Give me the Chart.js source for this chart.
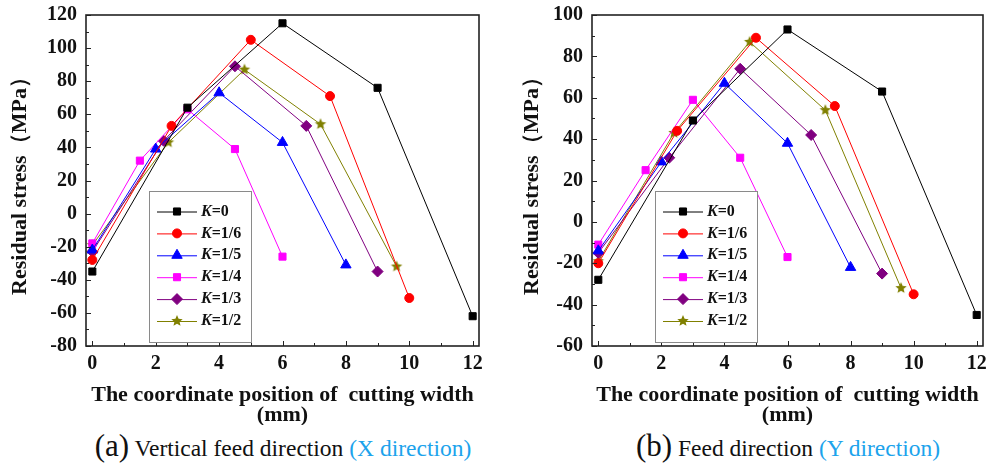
<!DOCTYPE html>
<html>
<head>
<meta charset="utf-8">
<script src="https://cdn.jsdelivr.net/npm/chart.js@4.4.1/dist/chart.umd.min.js"></script>
<style>
  html, body { margin: 0; padding: 0; background: #fff; }
  #wrap { position: relative; width: 995px; height: 469px; overflow: hidden; }
  .panel { position: absolute; top: 0; height: 425px; }
  #pa { left: 0; width: 497px; }
  #pb { left: 497px; width: 498px; }
  .cap { position: absolute; top: 429px; line-height: 34px; font-family: 'Liberation Serif', 'Times New Roman', serif;
         font-size: 23.5px; white-space: nowrap; transform: translateX(-50%); color: #111; }
  .cap .tag { font-size: 31px; }
  .cap .dir { color: #1ca3ec; }
</style>
</head>
<body>
<div id="wrap">
  <div class="panel" id="pa"><canvas id="ca"></canvas></div>
  <div class="panel" id="pb"><canvas id="cb"></canvas></div>
  <div class="cap" style="left:283px"><span class="tag">(a)</span> Vertical feed direction <span class="dir">(X direction)</span></div>
  <div class="cap" style="left:788px"><span class="tag">(b)</span> Feed direction <span class="dir">(Y direction)</span></div>
</div>
<script>
// series names and cutting-width positions (mm), shared by both panels
var seriesNames = ['K=0', 'K=1/6', 'K=1/5', 'K=1/4', 'K=1/3', 'K=1/2'];
var posK0  = [0, 3, 6, 9, 12];
var posK16 = [0, 2.5, 5, 7.5, 10];
var posK15 = [0, 2, 4, 6, 8];
var posK14 = [0, 1.5, 3, 4.5, 6];
var posK13 = [0, 2.25, 4.5, 6.75, 9];
var posK12 = [0, 2.4, 4.8, 7.2, 9.6];

// (a) vertical feed direction — residual stress, MPa
var xdirK0  = [-35, 64, 115, 76, -62];
var xdirK16 = [-28, 53, 105, 71, -51];
var xdirK15 = [-22, 39, 73, 43, -31];
var xdirK14 = [-18, 32, 63, 39, -26];
var xdirK13 = [-23, 44, 89, 53, -35];
var xdirK12 = [-19, 43, 87, 54, -32];

// (b) feed direction — residual stress, MPa
var ydirK0  = [-28, 49, 93, 63, -45];
var ydirK16 = [-20, 44, 89, 56, -35];
var ydirK15 = [-14, 29, 67, 38, -22];
var ydirK14 = [-11, 25, 59, 31, -17];
var ydirK13 = [-15, 31, 74, 42, -25];
var ydirK12 = [-19, 43, 87, 54, -32];

var xTicks  = [0, 2, 4, 6, 8, 10, 12];
var yTicksA = [-80, -60, -40, -20, 0, 20, 40, 60, 80, 100, 120];
var yTicksB = [-60, -40, -20, 0, 20, 40, 60, 80, 100];

var colors = ['#000000', '#ff0000', '#0000ff', '#ff00ff', '#800080', '#808000'];
var SERIF = "'Liberation Serif', 'Times New Roman', serif";

function starImage(color, r) {
  var c = document.createElement('canvas');
  var s = Math.ceil(r * 2) + 2;
  c.width = c.height = s;
  var g = c.getContext('2d');
  g.fillStyle = color;
  g.beginPath();
  for (var i = 0; i < 10; i++) {
    var rr = i % 2 ? r * 0.45 : r;
    var a = -Math.PI / 2 + i * Math.PI / 5;
    g.lineTo(s / 2 + rr * Math.cos(a), s / 2 + rr * Math.sin(a));
  }
  g.closePath();
  g.fill();
  return c;
}
var markers = ['rect', 'circle', 'triangle', 'rect', 'rectRot', starImage('#808000', 6)];
var radii = [5, 4.5, 6, 5, 5.5, 6];

function pts(xs, ys) { return xs.map(function (x, i) { return { x: x, y: ys[i] }; }); }

// frame, inward ticks and the boxed legend inside the plot
var decor = {
  id: 'decor',
  afterDraw: function (chart, args, o) {
    var ctx = chart.ctx, a = chart.chartArea;
    var sx = chart.scales.x, sy = chart.scales.y;
    ctx.save();
    ctx.strokeStyle = '#222';
    ctx.lineWidth = 1;
    ctx.beginPath();
    var xt = sx.ticks.map(function (t) { return t.value; });
    var yt = sy.ticks.map(function (t) { return t.value; });
    xt.forEach(function (v, i) {
      var p = Math.round(sx.getPixelForValue(v)) + 0.5;
      ctx.moveTo(p, a.bottom); ctx.lineTo(p, a.bottom - 5);
      if (i < xt.length - 1) {
        var m = Math.round(sx.getPixelForValue((v + xt[i + 1]) / 2)) + 0.5;
        ctx.moveTo(m, a.bottom); ctx.lineTo(m, a.bottom - 3);
      }
    });
    yt.forEach(function (v, i) {
      var p = Math.round(sy.getPixelForValue(v)) + 0.5;
      ctx.moveTo(a.left, p); ctx.lineTo(a.left + 5, p);
      if (i < yt.length - 1) {
        var m = Math.round(sy.getPixelForValue((v + yt[i + 1]) / 2)) + 0.5;
        ctx.moveTo(a.left, m); ctx.lineTo(a.left + 3, m);
      }
    });
    ctx.stroke();
    ctx.lineWidth = 1.6;
    ctx.strokeRect(a.left, a.top, a.right - a.left, a.bottom - a.top);

    // legend box
    var bx = a.left + o.dx, by = o.top;
    ctx.fillStyle = '#fff';
    ctx.fillRect(bx, by, o.w, o.h);
    ctx.lineWidth = 1;
    ctx.strokeStyle = '#8a8a8a';
    ctx.strokeRect(bx + 0.5, by + 0.5, o.w, o.h);
    chart.data.datasets.forEach(function (ds, i) {
      var y = o.row0 + i * o.gap;
      ctx.strokeStyle = ds.borderColor;
      ctx.fillStyle = ds.borderColor;
      ctx.lineWidth = 1;
      ctx.beginPath();
      ctx.moveTo(bx + 8, y + 0.5); ctx.lineTo(bx + 48, y + 0.5);
      ctx.stroke();
      Chart.helpers.drawPoint(ctx, { pointStyle: ds.pointStyle, rotation: 0, borderWidth: 1, radius: ds.pointRadius }, bx + 28, y);
      ctx.fillStyle = '#111';
      ctx.textBaseline = 'middle';
      ctx.textAlign = 'left';
      ctx.font = 'italic bold 16px ' + SERIF;
      ctx.fillText(ds.label.charAt(0), bx + 52, y);
      var w = ctx.measureText(ds.label.charAt(0)).width;
      ctx.font = 'bold 16px ' + SERIF;
      ctx.fillText(ds.label.slice(1), bx + 52 + w, y);
    });
    ctx.restore();
  }
};

function makeChart(id, series, yTicks, cfg) {
  var positions = [posK0, posK16, posK15, posK14, posK13, posK12];
  var datasets = series.map(function (ys, i) {
    return {
      label: seriesNames[i],
      data: pts(positions[i], ys),
      borderColor: colors[i],
      backgroundColor: colors[i],
      borderWidth: 1,
      pointStyle: markers[i],
      pointRadius: radii[i],
      pointBorderWidth: 1,
      tension: 0
    };
  });
  return new Chart(document.getElementById(id), {
    type: 'line',
    data: { datasets: datasets },
    plugins: [decor],
    options: {
      responsive: true,
      maintainAspectRatio: false,
      animation: false,
      layout: { padding: { left: 0, top: 15, right: cfg.padRight, bottom: 0 } },
      plugins: {
        legend: { display: false },
        tooltip: { enabled: false },
        decor: { dx: 63, top: 191, w: 102, h: 151, row0: 211.5, gap: 21.9 }
      },
      scales: {
        x: {
          type: 'linear', min: -0.2, max: 12.2,
          grid: { display: false, drawTicks: false },
          border: { display: false },
          afterBuildTicks: function (s) { s.ticks = xTicks.map(function (v) { return { value: v }; }); },
          afterFit: function (s) { s.height = 79; s.paddingLeft = 0; s.paddingRight = 0; },
          ticks: { padding: 6, color: '#111', font: { family: SERIF, size: 20, weight: 'bold' } },
          title: {
            display: true, text: ['The coordinate position of  cutting width', '(mm)'], color: '#111',
            font: { family: SERIF, size: 22, weight: 'bold', lineHeight: 0.9 }, padding: { top: 0, bottom: 0 }
          }
        },
        y: {
          type: 'linear', min: yTicks[0], max: yTicks[yTicks.length - 1],
          grid: { display: false, drawTicks: false },
          border: { display: false },
          afterBuildTicks: function (s) { s.ticks = yTicks.map(function (v) { return { value: v }; }); },
          afterFit: function (s) { s.width = cfg.yWidth; s.paddingTop = 0; s.paddingBottom = 0; },
          ticks: { padding: 9, color: '#111', font: { family: SERIF, size: 20, weight: 'bold' } },
          title: {
            display: true, text: 'Residual stress（MPa）', color: '#111',
            font: { family: SERIF, size: 22, weight: 'bold', lineHeight: 1 }, padding: { top: cfg.titlePad, bottom: 0 }
          }
        }
      }
    }
  });
}

makeChart('ca', [xdirK0, xdirK16, xdirK15, xdirK14, xdirK13, xdirK12], yTicksA, { padRight: 18, yWidth: 86, titlePad: 9 });
makeChart('cb', [ydirK0, ydirK16, ydirK15, ydirK14, ydirK13, ydirK12], yTicksB, { padRight: 12, yWidth: 95, titlePad: 24 });
</script>
</body>
</html>
